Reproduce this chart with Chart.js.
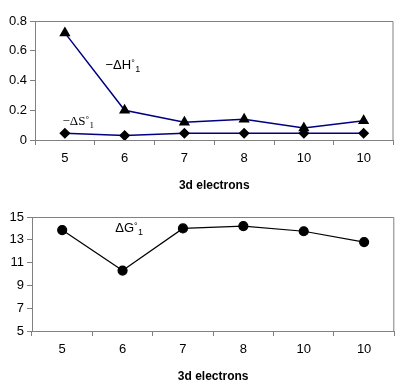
<!DOCTYPE html>
<html lang="en">
<head>
    <meta charset="UTF-8">
    <title>3d electrons</title>
    <script src="https://cdn.jsdelivr.net/npm/chart.js"></script>
    <style>
        html, body { margin: 0; padding: 0; background: #fff; }
        .box { position: absolute; left: 0; width: 400px; }
        #top { top: 0; height: 195px; }
        #bottom { top: 195px; height: 191px; }
    </style>
</head>
<body>
    <div class="box" id="top"><canvas id="enthalpyChart"></canvas></div>
    <div class="box" id="bottom"><canvas id="gibbsChart"></canvas></div>

    <script>
        // categories and values
        const electrons = ['5', '6', '7', '8', '10', '10'];
        const minusDeltaH = [0.72, 0.20, 0.12, 0.14, 0.08, 0.13];
        const minusDeltaS = [0.045, 0.03, 0.045, 0.045, 0.045, 0.045];
        const deltaG = [13.85, 10.3, 14.0, 14.2, 13.75, 12.8];

        const topTicks = [0, 0.2, 0.4, 0.6, 0.8];
        const bottomTicks = [5, 7, 9, 11, 13, 15];

        const grey = '#808080';
        const tickFont = { family: 'Liberation Sans', size: 13 };

        // frame of the plot area (top and right sides like Excel)
        const framePlugin = {
            id: 'frame',
            afterDraw(chart) {
                const a = chart.chartArea, ctx = chart.ctx;
                ctx.save();
                ctx.strokeStyle = grey;
                ctx.lineWidth = 1;
                ctx.beginPath();
                ctx.moveTo(a.left, a.top + 0.5);
                ctx.lineTo(a.right - 0.5, a.top + 0.5);
                ctx.lineTo(a.right - 0.5, a.bottom);
                ctx.stroke();
                ctx.restore();
            }
        };

        // series labels written inside the plot, placed with the scales
        function drawLabel(ctx, x, y, main, family) {
            ctx.font = '13px ' + family;
            ctx.fillStyle = '#000';
            ctx.textBaseline = 'alphabetic';
            ctx.fillText(main, x, y);
            let w = ctx.measureText(main).width;
            ctx.font = '9px ' + family;
            ctx.fillText('\u00b0', w + x, y - 3);
            ctx.fillText('1', w + x + 4, y + 3);
        }

        const labelPlugin = {
            id: 'labels',
            afterDatasetsDraw(chart) {
                const xs = chart.scales.x, ys = chart.scales.y, ctx = chart.ctx;
                ctx.save();
                chart.options.plugins.labels.items.forEach(item => {
                    const x = xs.getPixelForValue(item.at[0]);
                    const y = ys.getPixelForValue(item.at[1]);
                    drawLabel(ctx, x, y, item.text, item.family);
                });
                ctx.restore();
            }
        };

        function xAxis() {
            return {
                offset: true,
                grid: { offset: true, drawOnChartArea: false, color: grey, tickLength: 5 },
                border: { color: grey },
                ticks: { color: '#000', font: tickFont, padding: 6 },
                title: {
                    display: true, text: '3d electrons', color: '#000',
                    font: { family: 'Liberation Sans', size: 12, weight: 'bold' },
                    padding: { top: 0, bottom: 2 }
                },
                afterFit: s => { s.height = 55; }
            };
        }

        function yAxis(min, max, values, width) {
            return {
                min: min, max: max,
                afterBuildTicks: s => { s.ticks = values.map(v => ({ value: v })); },
                grid: { drawOnChartArea: false, color: grey, tickLength: 5 },
                border: { color: grey },
                ticks: { color: '#000', font: tickFont, padding: 3 },
                afterFit: s => { s.width = width; }
            };
        }

        new Chart(document.getElementById('enthalpyChart'), {
            type: 'line',
            data: {
                labels: electrons,
                datasets: [{
                    data: minusDeltaH,
                    borderColor: '#000080',
                    borderWidth: 1.5,
                    pointStyle: 'triangle',
                    pointRadius: 5,
                    pointBackgroundColor: '#000',
                    pointBorderColor: '#000',
                    tension: 0
                }, {
                    data: minusDeltaS,
                    borderColor: '#000080',
                    borderWidth: 1.5,
                    pointStyle: 'rectRot',
                    pointRadius: 4.5,
                    pointBackgroundColor: '#000',
                    pointBorderColor: '#000',
                    tension: 0
                }]
            },
            options: {
                responsive: true,
                maintainAspectRatio: false,
                animation: false,
                layout: { padding: { top: 21, right: 4, left: 0, bottom: 0 } },
                plugins: {
                    legend: { display: false },
                    tooltip: { enabled: false },
                    labels: {
                        items: [
                            { text: '\u2212\u0394H', at: [0.68, 0.48], family: 'Liberation Sans' },
                            { text: '\u2212\u0394S', at: [-0.04, 0.1], family: 'Liberation Serif' }
                        ]
                    }
                },
                scales: { x: xAxis(), y: yAxis(0, 0.8, topTicks, 35) }
            },
            plugins: [framePlugin, labelPlugin]
        });

        new Chart(document.getElementById('gibbsChart'), {
            type: 'line',
            data: {
                labels: electrons,
                datasets: [{
                    data: deltaG,
                    borderColor: '#000',
                    borderWidth: 1.2,
                    pointStyle: 'circle',
                    pointRadius: 4.5,
                    pointBackgroundColor: '#000',
                    pointBorderColor: '#000',
                    tension: 0
                }]
            },
            options: {
                responsive: true,
                maintainAspectRatio: false,
                animation: false,
                layout: { padding: { top: 22, right: 4, left: 0, bottom: 0 } },
                plugins: {
                    legend: { display: false },
                    tooltip: { enabled: false },
                    labels: {
                        items: [
                            { text: '\u0394G', at: [0.88, 13.7], family: 'Liberation Sans' }
                        ]
                    }
                },
                scales: { x: xAxis(), y: yAxis(5, 15, bottomTicks, 32) }
            },
            plugins: [framePlugin, labelPlugin]
        });
    </script>
</body>
</html>
